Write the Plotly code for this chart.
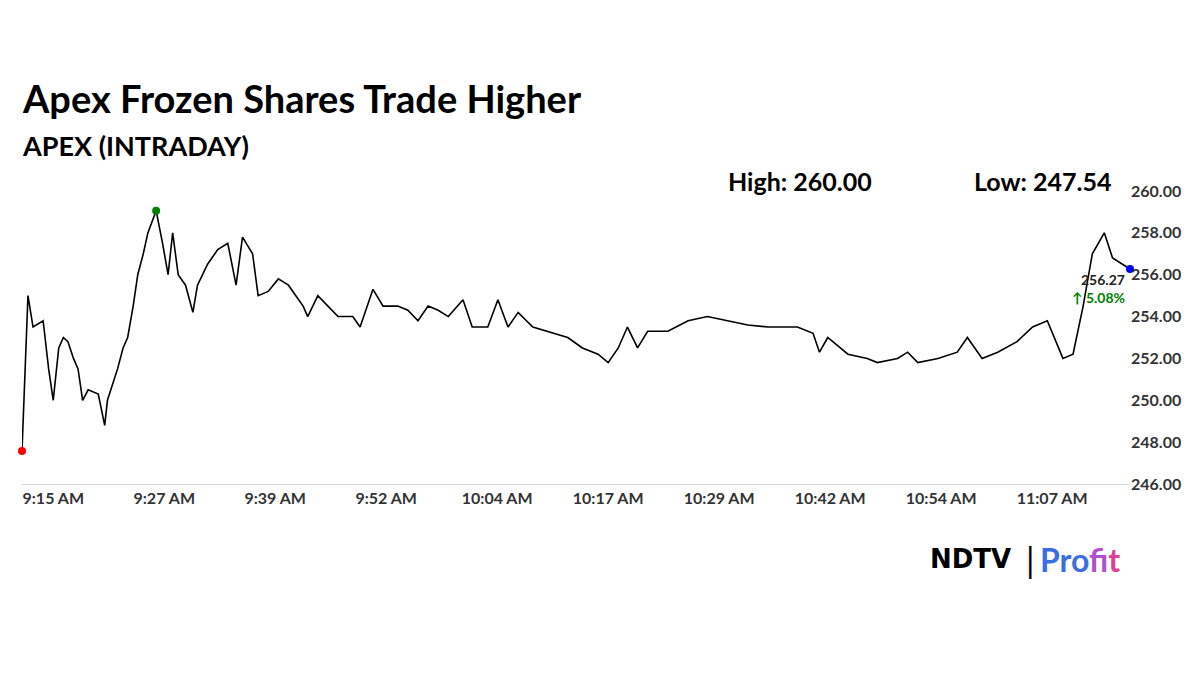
import plotly.graph_objects as go

# minutes after 9:15 and price
minutes = [0, 0.65, 1.2, 2.3, 2.9, 3.4, 4.0, 4.5, 5.0, 5.6, 6.1, 6.6, 7.2, 8.3, 9.0, 9.3, 10.4, 11.0, 11.5, 12.1,
           12.6, 13.2, 13.7, 14.6, 15.3, 15.9, 16.4, 17.0, 17.8, 18.6, 19.1, 20.2, 21.3, 22.4, 23.3, 24.0, 25.1,
           25.7, 26.8, 27.9, 29.0, 30.6, 31.1, 32.2, 33.3, 34.4, 36.0, 36.8, 38.2, 39.3, 40.9, 42.0, 43.1, 44.2,
           45.3, 46.4, 48.0, 49.0, 50.7, 51.8, 52.9, 54.0, 55.6, 57.8, 59.4, 61.0, 62.7, 63.8, 64.9, 65.9, 67.0,
           68.1, 70.3, 72.5, 74.6, 76.8, 79.0, 81.2, 84.4, 86.1, 86.8, 87.7, 89.9, 92.0, 93.1, 95.3, 96.4, 97.5,
           99.7, 101.8, 102.9, 104.5, 106.2, 108.3, 110.0, 111.6, 113.3, 114.4, 115.5, 116.5, 117.8, 118.7,
           119.8, 120.6]
prices = [247.58, 255.0, 253.5, 253.8, 251.5, 250.0, 252.5, 253.0, 252.8, 252.0, 251.5, 250.0, 250.5, 250.3,
          248.8, 250.0, 251.5, 252.5, 253.0, 254.5, 256.0, 257.0, 258.0, 259.06, 257.5, 256.0, 258.0, 256.0,
          255.5, 254.2, 255.5, 256.5, 257.2, 257.5, 255.5, 257.8, 257.0, 255.0, 255.2, 255.8, 255.5, 254.5,
          254.0, 255.0, 254.5, 254.0, 254.0, 253.5, 255.3, 254.5, 254.5, 254.3, 253.8, 254.5, 254.3, 254.0,
          254.8, 253.5, 253.5, 254.8, 253.5, 254.2, 253.5, 253.2, 253.0, 252.5, 252.2, 251.8, 252.5, 253.5,
          252.5, 253.3, 253.3, 253.8, 254.0, 253.8, 253.6, 253.5, 253.5, 253.2, 252.3, 253.0, 252.2, 252.0,
          251.8, 252.0, 252.3, 251.8, 252.0, 252.3, 253.0, 252.0, 252.3, 252.8, 253.5, 253.8, 252.0, 252.2,
          254.5, 257.0, 258.0, 256.8, 256.5, 256.27]

tick_labels = ["9:15 AM", "9:27 AM", "9:39 AM", "9:52 AM", "10:04 AM", "10:17 AM",
               "10:29 AM", "10:42 AM", "10:54 AM", "11:07 AM"]
tick_first = 3.4
tick_step = 12.08
y_ticks = [246, 248, 250, 252, 254, 256, 258, 260]

FONT = "Lato"
fig = go.Figure()
fig.add_trace(go.Scatter(x=minutes, y=prices, mode="lines", line=dict(color="black", width=1.6),
                         showlegend=False))
# low, high, last markers
lo = prices.index(min(prices))
hi = prices.index(max(prices))
for idx, col in [(lo, "red"), (hi, "green"), (len(prices) - 1, "blue")]:
    fig.add_trace(go.Scatter(x=[minutes[idx]], y=[prices[idx]], mode="markers",
                             marker=dict(color=col, size=8), showlegend=False, cliponaxis=False))

fig.update_layout(
    width=1200, height=674, plot_bgcolor="white", paper_bgcolor="white",
    margin=dict(l=14, r=78, t=183, b=198),
    font=dict(family=FONT, color="black"),
    xaxis=dict(range=[0, minutes[-1]], tickvals=[tick_first + i * tick_step for i in range(len(tick_labels))],
               ticktext=[f"<b>{t}</b>" for t in tick_labels], showgrid=False, zeroline=False, showline=True,
               linecolor="#d8d8d8", ticks="", tickfont=dict(size=16, color="#333"), automargin=False),
    yaxis=dict(range=[246, 260], side="right", tickvals=y_ticks, ticktext=[f"<b>{v:.2f}</b>" for v in y_ticks],
               showgrid=False, zeroline=False, ticks="", tickfont=dict(size=16, color="#333"), automargin=False),
)

# paper coords relative to plot area
def px(x, y):
    return (x - 14) / (1122 - 14), (476 - y) / (476 - 183)

ann = [
    ("<b>Apex Frozen Shares Trade Higher</b>", 12, 90, 38),
    ("<b>APEX (INTRADAY)</b>", 12, 137, 27),
    ("<b>High: 260.00</b>", 718, 173, 25),
    ("<b>Low: 247.54</b>", 964, 173, 25),
]
for text, x, y, size in ann:
    xx, yy = px(x, y)
    fig.add_annotation(text=text, x=xx, y=yy, xref="paper", yref="paper", xanchor="left", yanchor="middle",
                       showarrow=False, font=dict(size=size, family=FONT))

for text, x, y, col in [("<b>256.27</b>", 1119, 271, "#222"), ("<b>↑ 5.08%</b>", 1119, 289, "green")]:
    xx, yy = px(x, y)
    fig.add_annotation(text=text, x=xx, y=yy, xref="paper", yref="paper", xanchor="right", yanchor="middle",
                       showarrow=False, font=dict(size=14, color=col, family=FONT))

# logo
xx, yy = px(920, 551)
fig.add_annotation(text="<b>NDTV</b>", x=xx, y=yy, xref="paper", yref="paper", xanchor="left", yanchor="middle",
                   showarrow=False, font=dict(size=26, color="black", family="DejaVu Sans"))
xx, yy = px(1022, 551)
fig.add_annotation(text="|", x=xx, y=yy, xref="paper", yref="paper", xanchor="center", yanchor="middle",
                   showarrow=False, font=dict(size=34, color="black", family=FONT))
xx, yy = px(1030, 551)
fig.add_annotation(text="<b><span style='color:#3a6fe0'>Pro</span><span style='color:#b04fd0'>f</span>"
                        "<span style='color:#e0409a'>it</span></b>",
                   x=xx, y=yy, xref="paper", yref="paper", xanchor="left", yanchor="middle",
                   showarrow=False, font=dict(size=32, family=FONT))

fig.write_html("out.html")
